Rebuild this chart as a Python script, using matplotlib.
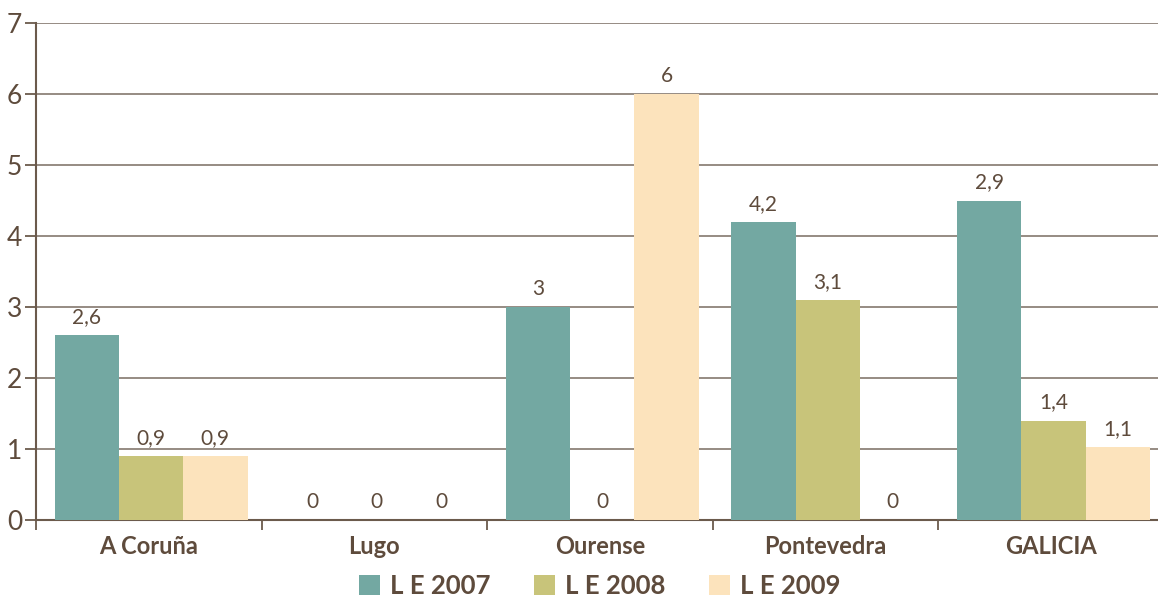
import matplotlib.pyplot as plt
import numpy as np

# data
categories = ["A Coruña", "Lugo", "Ourense", "Pontevedra", "GALICIA"]
series_names = ["L E 2007", "L E 2008", "L E 2009"]
le_2007 = [2.6, 0, 3.0, 4.2, 4.5]
le_2008 = [0.9, 0, 0, 3.1, 1.4]
le_2009 = [0.9, 0, 6.0, 0, 1.03]
# printed labels (GALICIA bars do not match their labels in the source)
labels_2007 = ["2,6", "0", "3", "4,2", "2,9"]
labels_2008 = ["0,9", "0", "0", "3,1", "1,4"]
labels_2009 = ["0,9", "0", "6", "0", "1,1"]

colors = ["#73a8a2", "#c8c47a", "#fce3bc"]
text_col = "#5e4b3c"
grid_col = "#8e8279"
font = "Lato"

fig = plt.figure(figsize=(11.58, 5.97), dpi=100)
ax = fig.add_axes([36 / 1158, 77 / 597, 1128 / 1158, 497 / 597])

x = np.arange(len(categories))
w = 0.285
values = [le_2007, le_2008, le_2009]
labels = [labels_2007, labels_2008, labels_2009]

for i, (vals, labs) in enumerate(zip(values, labels)):
    pos = x + (i - 1) * w + 0.01
    ax.bar(pos, vals, width=w, color=colors[i], label=series_names[i], zorder=3)
    for px, v, lab in zip(pos, vals, labs):
        ax.annotate(lab, (px, v), xytext=(0, 13), textcoords="offset points",
                    ha="center", va="center", fontsize=15, color=text_col,
                    family=font)

ax.set_xlim(-0.5, len(categories) - 0.5)
ax.set_ylim(0, 7)
ax.set_yticks(range(0, 8))
ax.yaxis.grid(True, color=grid_col, linewidth=1.3, zorder=0)
ax.set_axisbelow(True)

for s in ["top", "right"]:
    ax.spines[s].set_visible(False)
ax.spines["left"].set_color("#6b5a4c")
ax.spines["left"].set_linewidth(1.5)
ax.spines["bottom"].set_color("#6b5a4c")
ax.spines["bottom"].set_linewidth(1.5)

ax.tick_params(axis="y", length=8, width=1.3, color="#6b5a4c",
               labelsize=19, labelcolor=text_col, pad=2)
for t in ax.get_yticklabels():
    t.set_family(font)

# category labels centred, tick marks between groups
ax.set_xticks(x)
ax.set_xticklabels(categories, fontsize=17, fontweight="bold",
                   color=text_col, family=font)
ax.tick_params(axis="x", which="major", length=0, pad=11)
ax.set_xticks(np.arange(-0.5, len(categories) - 0.4, 1), minor=True)
ax.tick_params(axis="x", which="minor", length=7, width=1.3, color="#6b5a4c")

leg = fig.legend(loc="center", bbox_to_anchor=(0.518, 0.018), ncol=3,
                 frameon=False, handlelength=0.8, handleheight=0.8,
                 handletextpad=0.4, columnspacing=1.7,
                 prop={"family": font, "weight": "bold", "size": 18.5})
for t in leg.get_texts():
    t.set_color(text_col)

fig.savefig("out.png", dpi=100)
